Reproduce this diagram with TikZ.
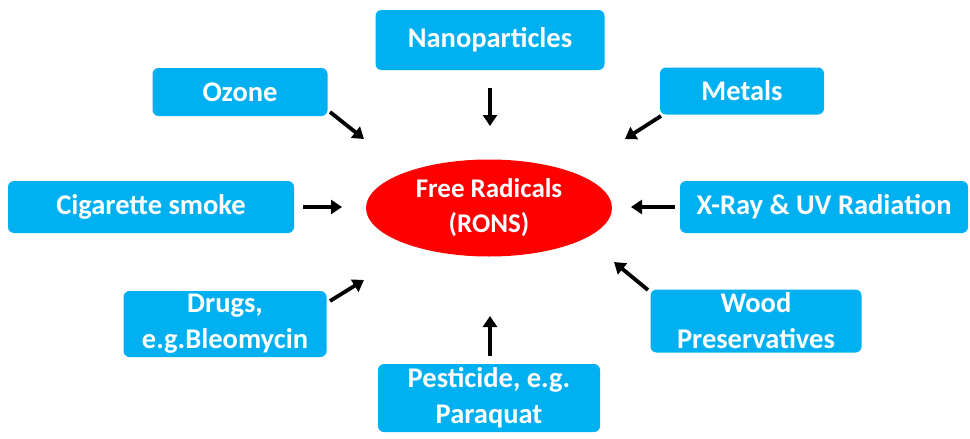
\documentclass[tikz,border=0pt]{standalone}
\usepackage{fontspec}
\setmainfont{Carlito}
\usetikzlibrary{arrows.meta,shapes.geometric}
\definecolor{boxblue}{HTML}{00B0F0}
\definecolor{radred}{HTML}{FF0000}
\tikzset{
  txt/.style={text=white, font=\bfseries\fontsize{28.5}{36}\selectfont, align=center},
  srcbox/.style={txt, fill=boxblue, rounded corners=6pt, inner sep=0pt},
  arr/.style={line width=3.8pt, -{Triangle[length=11pt,width=14pt]}},
}
\begin{document}
\begin{tikzpicture}[x=1pt,y=-1pt]
\useasboundingbox (0,0) rectangle (970,439);
\node[srcbox, minimum width=229pt, minimum height=60pt] (nano) at (490,40) {Nanoparticles};
\node[srcbox, minimum width=175pt, minimum height=48pt] (ozone) at (240,92) {Ozone};
\node[srcbox, minimum width=164pt, minimum height=47pt] (metals) at (742,91) {Metals};
\node[srcbox, minimum width=286pt, minimum height=52pt] (cig) at (151,207) {Cigarette smoke};
\node[srcbox, minimum width=288pt, minimum height=52pt] (xray) at (824,207) {X-Ray \& UV Radiation};
\node[srcbox, minimum width=203pt, minimum height=66pt] (drugs) at (225,324) {Drugs,\\e.g.Bleomycin};
\node[srcbox, minimum width=211pt, minimum height=63pt] (wood) at (756,321) {Wood\\Preservatives};
\node[srcbox, minimum width=222pt, minimum height=68pt] (pest) at (489,398) {Pesticide, e.g.\\Paraquat};
\node[ellipse, fill=radred, minimum width=246pt, minimum height=97pt, inner sep=0pt, txt, font=\bfseries\fontsize{27}{35}\selectfont] (fr) at (489,208) {Free Radicals\\(RONS)};
\coordinate (a1s) at (490,88); \coordinate (a1e) at (490,126);
\coordinate (a2s) at (330,112); \coordinate (a2e) at (364,139);
\coordinate (a3s) at (661,116); \coordinate (a3e) at (625,139);
\coordinate (a4s) at (303,207); \coordinate (a4e) at (342,207);
\coordinate (a5s) at (675,207); \coordinate (a5e) at (631,207);
\coordinate (a6s) at (330,301); \coordinate (a6e) at (364,280);
\coordinate (a7s) at (648,290); \coordinate (a7e) at (614,262);
\coordinate (a8s) at (490,356); \coordinate (a8e) at (490,316);
\draw[arr] (a1s) -- (a1e);
\draw[arr] (a2s) -- (a2e);
\draw[arr] (a3s) -- (a3e);
\draw[arr] (a4s) -- (a4e);
\draw[arr] (a5s) -- (a5e);
\draw[arr] (a6s) -- (a6e);
\draw[arr] (a7s) -- (a7e);
\draw[arr] (a8s) -- (a8e);
\end{tikzpicture}
\end{document}
